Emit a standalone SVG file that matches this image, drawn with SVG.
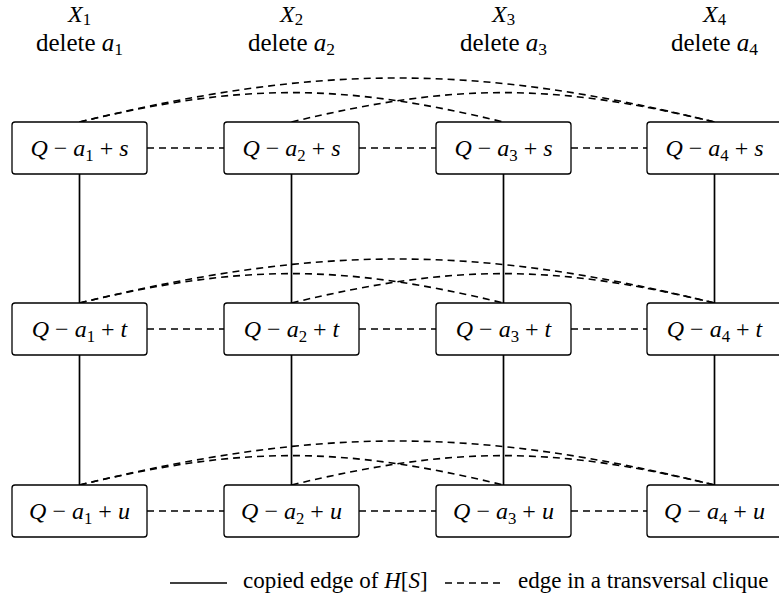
<svg xmlns="http://www.w3.org/2000/svg" width="779" height="599" viewBox="0 0 779 599">
<style>
.box{fill:#fff;stroke:#000;stroke-width:1.3}
.solid{fill:none;stroke:#000;stroke-width:1.7}
.dash{fill:none;stroke:#000;stroke-width:1.6;stroke-dasharray:7 5}
.t{font-family:'Liberation Serif','Times New Roman',serif;fill:#000}
.lbl{font-size:24px;text-anchor:middle}
.hdr{font-size:24px;text-anchor:middle}
.hdr2{font-size:25px;text-anchor:middle}
.leg{font-size:23px}
.i{font-style:italic}
.sub{font-size:70%}
</style>
<rect width="779" height="599" fill="#fff"/>
<g id="headers">
<text class="t hdr" x="79.5" y="22"><tspan class="i">X</tspan><tspan class="sub" dy="3">1</tspan></text>
<text class="t hdr2" x="79.5" y="51">delete <tspan class="i">a</tspan><tspan class="sub" dy="4">1</tspan></text>
<text class="t hdr" x="291.5" y="22"><tspan class="i">X</tspan><tspan class="sub" dy="3">2</tspan></text>
<text class="t hdr2" x="291.5" y="51">delete <tspan class="i">a</tspan><tspan class="sub" dy="4">2</tspan></text>
<text class="t hdr" x="503.5" y="22"><tspan class="i">X</tspan><tspan class="sub" dy="3">3</tspan></text>
<text class="t hdr2" x="503.5" y="51">delete <tspan class="i">a</tspan><tspan class="sub" dy="4">3</tspan></text>
<text class="t hdr" x="714.5" y="22"><tspan class="i">X</tspan><tspan class="sub" dy="3">4</tspan></text>
<text class="t hdr2" x="714.5" y="51">delete <tspan class="i">a</tspan><tspan class="sub" dy="4">4</tspan></text>
</g>
<g id="connectors">
<line class="solid" x1="79.5" y1="174" x2="79.5" y2="303"/>
<line class="solid" x1="291.5" y1="174" x2="291.5" y2="303"/>
<line class="solid" x1="503.5" y1="174" x2="503.5" y2="303"/>
<line class="solid" x1="714.5" y1="174" x2="714.5" y2="303"/>
<line class="solid" x1="79.5" y1="355" x2="79.5" y2="485"/>
<line class="solid" x1="291.5" y1="355" x2="291.5" y2="485"/>
<line class="solid" x1="503.5" y1="355" x2="503.5" y2="485"/>
<line class="solid" x1="714.5" y1="355" x2="714.5" y2="485"/>
<line class="dash" x1="147" y1="148" x2="224" y2="148"/>
<line class="dash" x1="359" y1="148" x2="436" y2="148"/>
<line class="dash" x1="571" y1="148" x2="647" y2="148"/>
<line class="dash" x1="147" y1="329" x2="224" y2="329"/>
<line class="dash" x1="359" y1="329" x2="436" y2="329"/>
<line class="dash" x1="571" y1="329" x2="647" y2="329"/>
<line class="dash" x1="147" y1="511" x2="224" y2="511"/>
<line class="dash" x1="359" y1="511" x2="436" y2="511"/>
<line class="dash" x1="571" y1="511" x2="647" y2="511"/>
<path class="dash" d="M79.5,122 C319.5,63.3 474.5,63.3 714.5,122"/>
<path class="dash" d="M79.5,122 C241.5,82.8 341.5,82.8 503.5,122"/>
<path class="dash" d="M291.5,122 C453.5,82.8 552.5,82.8 714.5,122"/>
<path class="dash" d="M79.5,303 C319.5,244.3 474.5,244.3 714.5,303"/>
<path class="dash" d="M79.5,303 C241.5,263.8 341.5,263.8 503.5,303"/>
<path class="dash" d="M291.5,303 C453.5,263.8 552.5,263.8 714.5,303"/>
<path class="dash" d="M79.5,485 C319.5,426.3 474.5,426.3 714.5,485"/>
<path class="dash" d="M79.5,485 C241.5,445.8 341.5,445.8 503.5,485"/>
<path class="dash" d="M291.5,485 C453.5,445.8 552.5,445.8 714.5,485"/>
</g>
<g id="nodes">
<g id="n1s"><rect class="box" x="12" y="122" width="135" height="52" rx="3"/><text class="t lbl" x="79.5" y="156"><tspan class="i">Q</tspan> − <tspan class="i">a</tspan><tspan class="sub" dy="5">1</tspan><tspan dy="-5"> + </tspan><tspan class="i">s</tspan></text></g>
<g id="n2s"><rect class="box" x="224" y="122" width="135" height="52" rx="3"/><text class="t lbl" x="291.5" y="156"><tspan class="i">Q</tspan> − <tspan class="i">a</tspan><tspan class="sub" dy="5">2</tspan><tspan dy="-5"> + </tspan><tspan class="i">s</tspan></text></g>
<g id="n3s"><rect class="box" x="436" y="122" width="135" height="52" rx="3"/><text class="t lbl" x="503.5" y="156"><tspan class="i">Q</tspan> − <tspan class="i">a</tspan><tspan class="sub" dy="5">3</tspan><tspan dy="-5"> + </tspan><tspan class="i">s</tspan></text></g>
<g id="n4s"><rect class="box" x="647" y="122" width="135" height="52" rx="3"/><text class="t lbl" x="714.5" y="156"><tspan class="i">Q</tspan> − <tspan class="i">a</tspan><tspan class="sub" dy="5">4</tspan><tspan dy="-5"> + </tspan><tspan class="i">s</tspan></text></g>
<g id="n1t"><rect class="box" x="12" y="303" width="135" height="52" rx="3"/><text class="t lbl" x="79.5" y="337"><tspan class="i">Q</tspan> − <tspan class="i">a</tspan><tspan class="sub" dy="5">1</tspan><tspan dy="-5"> + </tspan><tspan class="i">t</tspan></text></g>
<g id="n2t"><rect class="box" x="224" y="303" width="135" height="52" rx="3"/><text class="t lbl" x="291.5" y="337"><tspan class="i">Q</tspan> − <tspan class="i">a</tspan><tspan class="sub" dy="5">2</tspan><tspan dy="-5"> + </tspan><tspan class="i">t</tspan></text></g>
<g id="n3t"><rect class="box" x="436" y="303" width="135" height="52" rx="3"/><text class="t lbl" x="503.5" y="337"><tspan class="i">Q</tspan> − <tspan class="i">a</tspan><tspan class="sub" dy="5">3</tspan><tspan dy="-5"> + </tspan><tspan class="i">t</tspan></text></g>
<g id="n4t"><rect class="box" x="647" y="303" width="135" height="52" rx="3"/><text class="t lbl" x="714.5" y="337"><tspan class="i">Q</tspan> − <tspan class="i">a</tspan><tspan class="sub" dy="5">4</tspan><tspan dy="-5"> + </tspan><tspan class="i">t</tspan></text></g>
<g id="n1u"><rect class="box" x="12" y="485" width="135" height="52" rx="3"/><text class="t lbl" x="79.5" y="519"><tspan class="i">Q</tspan> − <tspan class="i">a</tspan><tspan class="sub" dy="5">1</tspan><tspan dy="-5"> + </tspan><tspan class="i">u</tspan></text></g>
<g id="n2u"><rect class="box" x="224" y="485" width="135" height="52" rx="3"/><text class="t lbl" x="291.5" y="519"><tspan class="i">Q</tspan> − <tspan class="i">a</tspan><tspan class="sub" dy="5">2</tspan><tspan dy="-5"> + </tspan><tspan class="i">u</tspan></text></g>
<g id="n3u"><rect class="box" x="436" y="485" width="135" height="52" rx="3"/><text class="t lbl" x="503.5" y="519"><tspan class="i">Q</tspan> − <tspan class="i">a</tspan><tspan class="sub" dy="5">3</tspan><tspan dy="-5"> + </tspan><tspan class="i">u</tspan></text></g>
<g id="n4u"><rect class="box" x="647" y="485" width="135" height="52" rx="3"/><text class="t lbl" x="714.5" y="519"><tspan class="i">Q</tspan> − <tspan class="i">a</tspan><tspan class="sub" dy="5">4</tspan><tspan dy="-5"> + </tspan><tspan class="i">u</tspan></text></g>
</g>
<g id="legend">
<line class="solid" x1="170" y1="583" x2="227" y2="583"/>
<text class="t leg" x="243" y="588">copied edge of <tspan class="i">H</tspan>[<tspan class="i">S</tspan>]</text>
<line class="dash" x1="445" y1="583" x2="502" y2="583"/>
<text class="t leg" x="518" y="588">edge in a transversal clique</text>
</g>
</svg>
